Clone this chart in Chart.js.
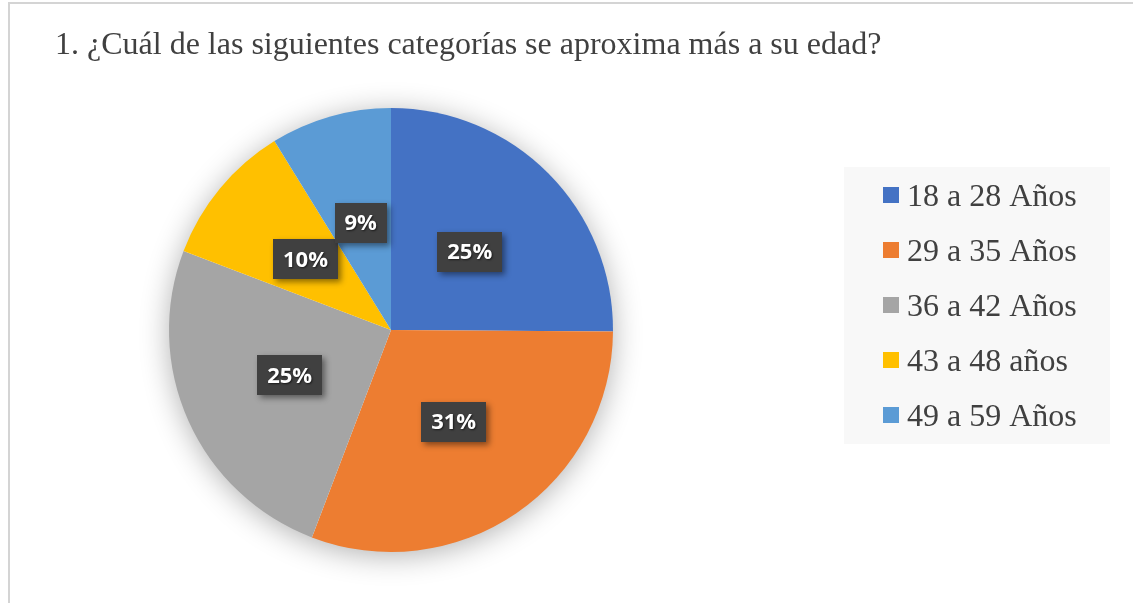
<!DOCTYPE html>
<html>
<head>
<meta charset="utf-8">
<script src="https://cdn.jsdelivr.net/npm/chart.js@4"></script>
<style>
  html, body { margin: 0; padding: 0; background: #fff; overflow: hidden; }
  #frame { position: absolute; left: 8px; top: 2px; width: 1200px; height: 700px; border: 2px solid #d4d4d4; box-sizing: border-box; }
  #wrap { position: absolute; left: 0; top: 0; width: 1133px; height: 603px; }
</style>
</head>
<body>
<div id="frame"></div>
<div id="wrap"><canvas id="c" width="1133" height="603"></canvas></div>
<script>
const titleText = "1. ¿Cuál de las siguientes categorías se aproxima más a su edad?";
const categories = ["18 a 28 Años", "29 a 35 Años", "36 a 42 Años", "43 a 48 años", "49 a 59 Años"];
const values = [25.1, 30.7, 25.0, 10.4, 8.8];
const colors = ["#4472C4", "#ED7D31", "#A5A5A5", "#FFC000", "#5B9BD5"];

const textColor = "#404040";

const pieShadow = {
  id: "pieShadow",
  beforeDatasetsDraw(chart) {
    const arc = chart.getDatasetMeta(0).data[0];
    if (!arc) return;
    const ctx = chart.ctx;
    ctx.save();
    ctx.shadowColor = "rgba(0,0,0,0.32)";
    ctx.shadowBlur = 30;
    ctx.shadowOffsetX = 0;
    ctx.shadowOffsetY = 4;
    ctx.fillStyle = "#ffffff";
    ctx.beginPath();
    ctx.arc(arc.x, arc.y, arc.outerRadius - 1, 0, Math.PI * 2);
    ctx.fill();
    ctx.restore();
  }
};

const decorations = {
  id: "decorations",
  afterDatasetsDraw(chart) {
    const ctx = chart.ctx;
    const meta = chart.getDatasetMeta(0);
    const data = chart.data.datasets[0].data;
    const total = data.reduce((a, b) => a + b, 0);
    // data labels
    ctx.save();
    ctx.font = "bold 22px 'Open Sans', sans-serif";
    ctx.textAlign = "center";
    ctx.textBaseline = "middle";
    meta.data.forEach((el, i) => {
      const p = el.tooltipPosition();
      const txt = Math.round(data[i] / total * 100) + "%";
      const w = ctx.measureText(txt).width + 20;
      const h = 40;
      ctx.save();
      ctx.shadowColor = "rgba(0,0,0,0.45)";
      ctx.shadowBlur = 6;
      ctx.shadowOffsetX = 3;
      ctx.shadowOffsetY = 3;
      ctx.fillStyle = "#404040";
      ctx.fillRect(Math.round(p.x - w / 2), Math.round(p.y - h / 2), Math.round(w), h);
      ctx.restore();
      ctx.save();
      ctx.shadowColor = "rgba(0,0,0,0.6)";
      ctx.shadowBlur = 2;
      ctx.shadowOffsetX = 1;
      ctx.shadowOffsetY = 1;
      ctx.fillStyle = "#ffffff";
      ctx.fillText(txt, p.x, p.y + 1);
      ctx.restore();
    });
    ctx.restore();

    // title
    ctx.save();
    ctx.font = "32px 'Liberation Serif', 'Times New Roman', serif";
    ctx.fillStyle = textColor;
    ctx.textAlign = "left";
    ctx.textBaseline = "alphabetic";
    ctx.fillText(titleText, 55, 54);
    ctx.restore();

    // legend
    ctx.save();
    ctx.fillStyle = "#f8f8f8";
    ctx.fillRect(844, 167, 266, 277);
    ctx.font = "32px 'Liberation Serif', 'Times New Roman', serif";
    ctx.textBaseline = "alphabetic";
    ctx.textAlign = "left";
    chart.data.labels.forEach((lab, i) => {
      const cy = 195 + i * 55;
      ctx.fillStyle = colors[i];
      ctx.fillRect(883, cy - 8, 16, 16);
      ctx.fillStyle = textColor;
      ctx.fillText(lab, 907, cy + 10.5);
    });
    ctx.restore();
  }
};

new Chart(document.getElementById("c"), {
  type: "pie",
  data: {
    labels: categories,
    datasets: [{
      data: values,
      backgroundColor: colors,
      borderWidth: 0
    }]
  },
  options: {
    responsive: false,
    animation: false,
    layout: { padding: { left: 169, right: 520, top: 108, bottom: 51 } },
    plugins: {
      legend: { display: false },
      tooltip: { enabled: false },
      title: { display: false }
    }
  },
  plugins: [pieShadow, decorations]
});
</script>
</body>
</html>
